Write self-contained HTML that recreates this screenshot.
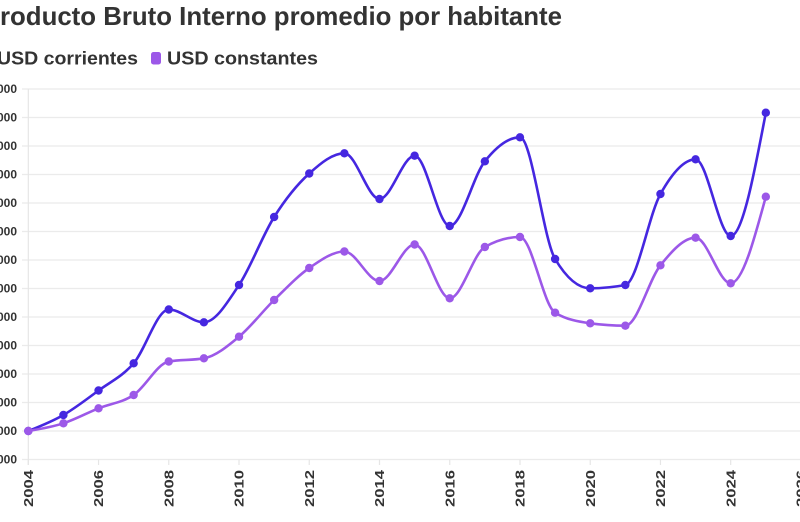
<!DOCTYPE html>
<html>
<head>
<meta charset="utf-8">
<style>
html,body{margin:0;padding:0;background:#fff;width:800px;height:522px;overflow:hidden;}
svg{display:block;}
text{font-family:"Liberation Sans",sans-serif;font-weight:bold;fill:#333;}
</style>
</head>
<body>
<svg id="c" width="800" height="522" viewBox="0 0 800 522" xmlns="http://www.w3.org/2000/svg">
  <text x="0" y="25" font-size="26" text-anchor="end">P</text>
  <text x="0" y="25" font-size="26" textLength="562" lengthAdjust="spacingAndGlyphs">roducto Bruto Interno promedio por habitante</text>

  <rect x="-17" y="52" width="10" height="12.5" rx="2.5" fill="#4527e0"/>
  <text x="-3" y="64.5" font-size="18" textLength="141" lengthAdjust="spacingAndGlyphs">USD corrientes</text>
  <rect x="151" y="52" width="10" height="12.5" rx="2.5" fill="#9c58e8"/>
  <text x="167" y="64.5" font-size="18" textLength="151" lengthAdjust="spacingAndGlyphs">USD constantes</text>

  <g id="grid" stroke="#ebebeb" stroke-width="1.2"></g>
  <line x1="28.3" y1="89" x2="28.3" y2="465" stroke="#e6e6e6" stroke-width="1.2"/>
  <g id="xt" stroke="#e6e6e6" stroke-width="1.2"></g>
  <g id="ylab" font-size="12"></g>
  <g id="xlab" font-size="13"></g>
  <g id="series"></g>
</svg>
<script>
(function(){
  var NS="http://www.w3.org/2000/svg";
  function el(tag,attrs,parent,txt){var e=document.createElementNS(NS,tag);for(var k in attrs)e.setAttribute(k,attrs[k]);if(txt!==undefined)e.textContent=txt;parent.appendChild(e);return e;}
  var grid=document.getElementById('grid'),ylab=document.getElementById('ylab'),xt=document.getElementById('xt'),xlab=document.getElementById('xlab'),ser=document.getElementById('series');
  var vals=["14.000","13.000","12.000","11.000","10.000","9.000","8.000","7.000","6.000","5.000","4.000","3.000","2.000","1.000"];
  for(var i=0;i<14;i++){
    var y=89+i*28.5;
    el('line',{x1:22,y1:y,x2:800,y2:y},grid);
    el('text',{x:17,y:y+4.2,'text-anchor':'end'},ylab,vals[i]);
  }
  function X(yr){return 28.3+(yr-2004)*35.12;}
  for(var yr=2004;yr<=2026;yr+=2){
    var x=X(yr);
    el('line',{x1:x,y1:459.5,x2:x,y2:465},xt);
    el('text',{transform:'translate('+(x+4.6)+',470) rotate(-90)','text-anchor':'end',textLength:37,lengthAdjust:'spacingAndGlyphs'},xlab,String(yr));
  }
  var blue=[431,415,390.5,363.3,309.5,322.3,285,217,173.5,153.3,199,155.7,226,161.3,137.3,259,288.3,285,194,159.3,236,112.7];
  var purp=[431,423.3,408.3,395,361.5,358.3,336.7,300,268,251.5,281,244.5,298.3,247,237,312.7,323.3,325.7,265.3,237.7,283.3,196.7];
  function sign(v){return v<0?-1:1;}
  function path(ys){
    var n=ys.length,xs=[],t=[];
    for(var i=0;i<n;i++)xs.push(X(2004+i));
    for(var i=1;i<n-1;i++){
      var h0=xs[i]-xs[i-1],h1=xs[i+1]-xs[i];
      var s0=(ys[i]-ys[i-1])/h0,s1=(ys[i+1]-ys[i])/h1;
      var p=(s0*h1+s1*h0)/(h0+h1);
      t[i]=(sign(s0)+sign(s1))*Math.min(Math.abs(s0),Math.abs(s1),0.5*Math.abs(p))||0;
    }
    var h=xs[1]-xs[0];
    t[0]=(3*(ys[1]-ys[0])/h-t[1])/2;
    h=xs[n-1]-xs[n-2];
    t[n-1]=(3*(ys[n-1]-ys[n-2])/h-t[n-2])/2;
    var d="M"+xs[0]+","+ys[0];
    for(var i=0;i<n-1;i++){
      var dx=(xs[i+1]-xs[i])/3;
      d+="C"+(xs[i]+dx)+","+(ys[i]+dx*t[i])+","+(xs[i+1]-dx)+","+(ys[i+1]-dx*t[i+1])+","+xs[i+1]+","+ys[i+1];
    }
    return {d:d,xs:xs};
  }
  function draw(ys,col){
    var r=path(ys);
    el('path',{d:r.d,fill:'none',stroke:col,'stroke-width':2.6,'stroke-linejoin':'round','stroke-linecap':'round'},ser);
    for(var i=0;i<ys.length;i++)el('circle',{cx:r.xs[i],cy:ys[i],r:4.2,fill:col},ser);
  }
  draw(blue,'#4527e0');
  draw(purp,'#9c58e8');
})();
</script>
</body>
</html>
